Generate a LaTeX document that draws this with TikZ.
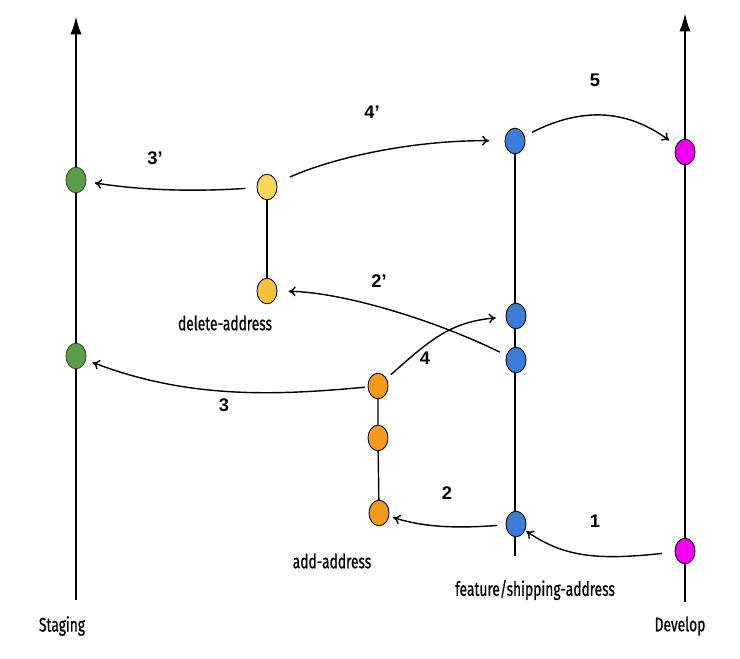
\documentclass[tikz,border=0pt]{standalone}
\usepackage{fontspec}
\setmainfont{Liberation Sans}
\newfontfamily\branchfont[FakeStretch=0.7,FakeBold=0.6]{Fira Sans}
\usetikzlibrary{shapes.geometric,arrows.meta}

\definecolor{stagegreen}{HTML}{5C9E48}
\definecolor{delyellow}{HTML}{F9D65E}
\definecolor{delyellowb}{HTML}{F4C13B}
\definecolor{addorange}{HTML}{F39A1E}
\definecolor{featblue}{HTML}{3C7DD9}
\definecolor{devmagenta}{HTML}{F400F0}

\begin{document}
\begin{tikzpicture}[x=0.025cm, y=-0.025cm,
    commit/.style={ellipse, draw=black, line width=0.6pt, minimum width=0.5cm, minimum height=0.64cm, inner sep=0pt},
    branch/.style={line width=1.8pt},
    subbranch/.style={line width=1pt},
    merge/.style={->, >={To[length=5pt,width=7pt]}, line width=1pt},
    step label/.style={font=\bfseries\fontsize{13}{13}\selectfont},
    branch label/.style={font=\branchfont\fontsize{14}{14}\selectfont}]
        \useasboundingbox (0,0) rectangle (740,658);

        % Main branches
        \coordinate (stagebot) at (76,600);
        \coordinate (stagetop) at (76,16);
        \coordinate (devbot) at (685,602);
        \coordinate (devtop) at (685,13);
        \draw[branch, -{Latex[length=13pt,width=8pt]}] (stagebot) -- (stagetop);
        \draw[branch, -{Latex[length=13pt,width=8pt]}] (devbot) -- (devtop);

        % Feature branch line
        \coordinate (featbot) at (515,556);
        \coordinate (feattop) at (515,128);
        \draw[subbranch] (featbot) -- (feattop);

        % Commits
        \node[commit, fill=stagegreen, draw=stagegreen!50!black] (g1) at (76,180) {};
        \node[commit, fill=stagegreen, draw=stagegreen!50!black] (g2) at (76,356) {};
        \node[commit, fill=devmagenta] (mag1) at (685,152) {};
        \node[commit, fill=devmagenta] (mag2) at (685,551) {};
        \node[commit, fill=featblue] (f4) at (515,141) {};
        \node[commit, fill=featblue] (f3) at (516,316) {};
        \node[commit, fill=featblue] (f2) at (516,360) {};
        \node[commit, fill=featblue] (f1) at (516,524) {};
        \node[commit, fill=delyellow] (y1) at (267,187) {};
        \node[commit, fill=delyellowb] (y2) at (267,291) {};
        \node[commit, fill=addorange] (o1) at (378,386) {};
        \node[commit, fill=addorange] (o2) at (378,438) {};
        \node[commit, fill=addorange] (o3) at (379,513) {};

        % Short branches
        \draw[subbranch] (y1) -- (y2);
        \draw[subbranch] (o1) -- (o2) -- (o3);

        % Branch names
        \node[branch label] (stagename) at (62,626) {Staging};
        \node[branch label] (devname) at (680,626) {Develop};
        \node[branch label] (delname) at (225,323) {delete-address};
        \node[branch label] (addname) at (332,561) {add-address};
        \node[branch label] (featname) at (535,590) {feature/shipping-address};

        % Steps
        \draw[merge, shorten <=9pt, shorten >=1pt] (mag2) .. controls (600,560) and (565,558) .. (f1);
        \node[step label] (s1) at (595,521) {1};
        \draw[merge, shorten <=6pt, shorten >=3pt] (f1) .. controls (450,529) and (420,526) .. (o3);
        \node[step label] (s2) at (447,493) {2};
        \draw[merge, shorten <=5pt, shorten >=8pt] (f2) .. controls (430,318) and (340,292) .. (y2);
        \node[step label] (s2b) at (379,281) {2’};
        \draw[merge, shorten <=2pt, shorten >=5pt] (o1) .. controls (280,395) and (190,400) .. (g2);
        \node[step label] (s3) at (224,405) {3};
        \draw[merge, shorten <=8pt, shorten >=6pt] (y1) .. controls (190,192) and (140,190) .. (g1);
        \node[step label] (s3b) at (155,158) {3’};
        \draw[merge, shorten <=4pt, shorten >=7pt] (o1) .. controls (430,340) and (450,322) .. (f3);
        \node[step label] (s4) at (425,358) {4};
        \draw[merge, shorten <=10pt, shorten >=11pt] (y1) .. controls (340,155) and (420,140) .. (f4);
        \node[step label] (s4b) at (372,112) {4’};
        \draw[merge, shorten <=6pt, shorten >=6pt] (f4) .. controls (580,108) and (625,108) .. (mag1);
        \node[step label] (s5) at (595,80) {5};

      \end{tikzpicture}
\end{document}
